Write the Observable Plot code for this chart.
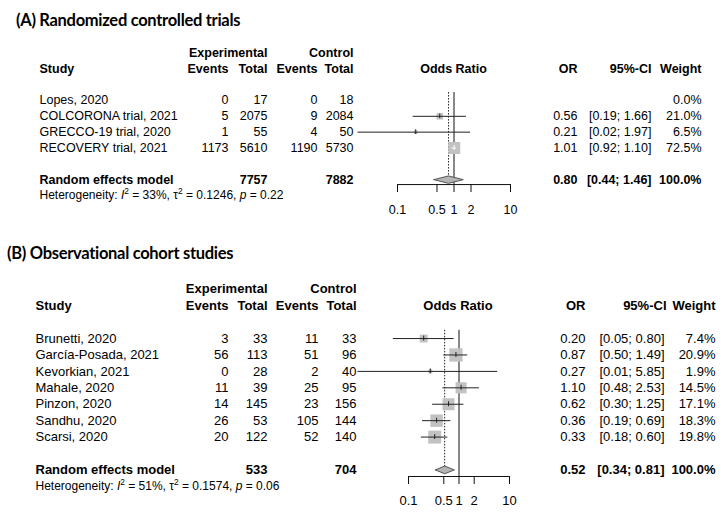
<!DOCTYPE html>
<html><head><meta charset="utf-8">
<script src="https://cdn.jsdelivr.net/npm/d3@7"></script>
<script src="https://cdn.jsdelivr.net/npm/@observablehq/plot@0.6"></script>
<style>
body{margin:0;background:#fff;}
#page{position:relative;width:726px;height:515px;overflow:hidden;font-family:"Liberation Sans",Arial,sans-serif;}
.title{position:absolute;font-family:Lato,"Open Sans",sans-serif;font-weight:bold;font-size:16.5px;letter-spacing:-0.3px;line-height:24px;white-space:nowrap;color:#000;}
.panel{position:absolute;left:0;}
.panel svg{display:block;}
</style></head><body>
<div id="page">
<div class="title" id="titleA" style="left:16px;top:8px"></div>
<div class="panel" id="panelA" style="top:32px"></div>
<div class="title" id="titleB" style="left:7px;top:241px"></div>
<div class="panel" id="panelB" style="top:265px"></div>
</div>
<script>
// ---------- data ----------
const rctTitle = "(A) Randomized controlled trials";
const rctStudies = ["Lopes, 2020", "COLCORONA trial, 2021", "GRECCO-19 trial, 2020", "RECOVERY trial, 2021"];
const rctExpEvents = [0, 5, 1, 1173];
const rctExpTotal = [17, 2075, 55, 5610];
const rctCtrlEvents = [0, 9, 4, 1190];
const rctCtrlTotal = [18, 2084, 50, 5730];
const rctOR = [null, 0.56, 0.21, 1.01];
const rctLower = [null, 0.19, 0.02, 0.92];
const rctUpper = [null, 1.66, 1.97, 1.10];
const rctWeight = [0.0, 21.0, 6.5, 72.5];
const rctPooled = [0.80, 0.44, 1.46];        // OR, lower, upper
const rctPooledTotals = [7757, 7882];        // experimental, control
const rctHet = ["33", "0.1246", "0.22"];     // I2 %, tau2, p

const obsTitle = "(B) Observational cohort studies";
const obsStudies = ["Brunetti, 2020", "García-Posada, 2021", "Kevorkian, 2021", "Mahale, 2020", "Pinzon, 2020", "Sandhu, 2020", "Scarsi, 2020"];
const obsExpEvents = [3, 56, 0, 11, 14, 26, 20];
const obsExpTotal = [33, 113, 28, 39, 145, 53, 122];
const obsCtrlEvents = [11, 51, 2, 25, 23, 105, 52];
const obsCtrlTotal = [33, 96, 40, 95, 156, 144, 140];
const obsOR = [0.20, 0.87, 0.27, 1.10, 0.62, 0.36, 0.33];
const obsLower = [0.05, 0.50, 0.01, 0.48, 0.30, 0.19, 0.18];
const obsUpper = [0.80, 1.49, 5.85, 2.53, 1.25, 0.69, 0.60];
const obsWeight = [7.4, 20.9, 1.9, 14.5, 17.1, 18.3, 19.8];
const obsPooled = [0.52, 0.34, 0.81];
const obsPooledTotals = [533, 704];
const obsHet = ["51", "0.1574", "0.06"];

const headerTop = ["Experimental", "Control"];
const headerCols = ["Study", "Events", "Total", "Events", "Total", "Odds Ratio", "OR", "95%-CI", "Weight"];
const pooledLabel = "Random effects model";
const xTicks = [0.1, 0.5, 1, 2, 10];
const xTickLabels = ["0.1", "0.5", "1", "2", "10"];

// ---------- layout ----------
const layoutA = {
  height: 193, ml: 397, mr: 216, y0: 20.5, step: 15.83, axisRow: 8.31, size: 12.5, labelDy: 25, maxSide: 12,
  cols: {study: 39, expEv: 228, expTot: 267, ctrlEv: 317, ctrlTot: 353, forest: 453, or: 577, ci: 651, ciHead: 651, w: 701}
};
const layoutB = {
  height: 250, ml: 408, mr: 217, y0: 23.8, step: 16.42, axisRow: 11.40, size: 13, labelDy: 24, maxSide: 13.3,
  cols: {study: 35, expEv: 228, expTot: 267, ctrlEv: 318, ctrlTot: 356, forest: 457.5, or: 585, ci: 664, ciHead: 666, w: 715}
};

const f2 = d3.format(".2f");
const f1 = d3.format(".1f");

function makePanel(cfg, d) {
  const rows = d.studies.map((s, i) => ({
    row: 3 + i, study: s, expEv: d.expEv[i], expTot: d.expTot[i], ctrlEv: d.ctrlEv[i], ctrlTot: d.ctrlTot[i],
    or: d.or[i], lo: d.lo[i], hi: d.hi[i], w: d.w[i]
  }));
  const est = rows.filter(r => r.or != null);
  const reRow = 3 + rows.length + 1;
  const hetRow = reRow + 1;
  const frameW = 726 - cfg.ml - cfg.mr;
  const pxPerDecade = frameW / 2;
  const maxW = d3.max(d.w);
  const side = w => cfg.maxSide * Math.sqrt(w / maxW);
  est.forEach(r => { r.inside = (Math.log10(r.hi) - Math.log10(r.lo)) * pxPerDecade < side(r.w); });
  const axisPix = cfg.y0 + cfg.step * cfg.axisRow;
  const mb = cfg.height - axisPix;
  const dh = 0.235; // diamond half-height (rows)
  const diamond = [
    {x: d.pooled[1], y: reRow}, {x: d.pooled[0], y: reRow - dh},
    {x: d.pooled[2], y: reRow}, {x: d.pooled[0], y: reRow + dh}, {x: d.pooled[1], y: reRow}
  ];
  const C = cfg.cols;
  const T = (data, o) => Plot.text(data, {
    frameAnchor: "left", dx: o.px - cfg.ml, y: o.y, text: o.text,
    textAnchor: o.anchor || "end", fontWeight: o.bold ? "bold" : "normal",
    fontSize: o.size || cfg.size, fill: "#000"
  });
  const hy = r => () => r;
  const tickData = xTicks.map((v, i) => ({v, label: xTickLabels[i]}));
  const plot = Plot.plot({
    width: 726, height: cfg.height,
    marginLeft: cfg.ml, marginRight: cfg.mr, marginTop: 0, marginBottom: mb,
    style: {fontFamily: '"Liberation Sans", Arial, sans-serif', background: "#fff", overflow: "visible"},
    x: {type: "log", domain: [0.1, 10], label: null},
    y: {domain: [0, hetRow], range: [cfg.y0, cfg.y0 + cfg.step * hetRow], axis: null},
    r: {type: "sqrt", domain: [0, maxW], range: [0, cfg.maxSide / Math.sqrt(Math.PI)]},
    marks: [
      // header
      T([headerTop[0]], {px: C.expTot, y: hy(0), text: t => t, bold: true}),
      T([headerTop[1]], {px: C.ctrlTot, y: hy(0), text: t => t, bold: true}),
      T([headerCols[0]], {px: C.study, y: hy(1), text: t => t, bold: true, anchor: "start"}),
      T([headerCols[1]], {px: C.expEv, y: hy(1), text: t => t, bold: true}),
      T([headerCols[2]], {px: C.expTot, y: hy(1), text: t => t, bold: true}),
      T([headerCols[3]], {px: C.ctrlEv, y: hy(1), text: t => t, bold: true}),
      T([headerCols[4]], {px: C.ctrlTot, y: hy(1), text: t => t, bold: true}),
      T([headerCols[5]], {px: C.forest, y: hy(1), text: t => t, bold: true, anchor: "middle"}),
      T([headerCols[6]], {px: C.or, y: hy(1), text: t => t, bold: true}),
      T([headerCols[7]], {px: C.ciHead, y: hy(1), text: t => t, bold: true}),
      T([headerCols[8]], {px: C.w, y: hy(1), text: t => t, bold: true}),
      // study rows
      T(rows, {px: C.study, y: "row", text: "study", anchor: "start"}),
      T(rows, {px: C.expEv, y: "row", text: r => String(r.expEv)}),
      T(rows, {px: C.expTot, y: "row", text: r => String(r.expTot)}),
      T(rows, {px: C.ctrlEv, y: "row", text: r => String(r.ctrlEv)}),
      T(rows, {px: C.ctrlTot, y: "row", text: r => String(r.ctrlTot)}),
      T(est, {px: C.or, y: "row", text: r => f2(r.or)}),
      T(est, {px: C.ci, y: "row", text: r => `[${f2(r.lo)}; ${f2(r.hi)}]`}),
      T(rows, {px: C.w, y: "row", text: r => f1(r.w) + "%"}),
      // pooled row
      T([pooledLabel], {px: C.study, y: hy(reRow), text: t => t, bold: true, anchor: "start"}),
      T([d.pooledTot[0]], {px: C.expTot, y: hy(reRow), text: t => String(t), bold: true}),
      T([d.pooledTot[1]], {px: C.ctrlTot, y: hy(reRow), text: t => String(t), bold: true}),
      T([d.pooled], {px: C.or, y: hy(reRow), text: p => f2(p[0]), bold: true}),
      T([d.pooled], {px: C.ci, y: hy(reRow), text: p => `[${f2(p[1])}; ${f2(p[2])}]`, bold: true}),
      T(["100.0%"], {px: C.w, y: hy(reRow), text: t => t, bold: true}),
      // heterogeneity
      T([d.het], {px: C.study, y: hy(hetRow), text: h => `Heterogeneity: I² = ${h[0]}%, τ² = ${h[1]}, p = ${h[2]}`, anchor: "start", size: 12}),
      // reference lines
      Plot.ruleX([1], {y1: 2.5, y2: cfg.axisRow, stroke: "#111", strokeWidth: 1}),
      Plot.ruleX([d.pooled[0]], {y1: 2.5, y2: reRow, stroke: "#222", strokeWidth: 1, strokeDasharray: "1.5,1.5"}),
      // squares
      Plot.dot(est, {x: "or", y: "row", r: "w", symbol: "square", fill: "#c2c2c2"}),
      // CI lines and estimate ticks
      Plot.ruleY(est, {y: "row", x1: "lo", x2: "hi", stroke: r => r.inside ? "#fff" : "#222", strokeWidth: 1}),
      Plot.ruleX(est, {x: "or", y1: r => r.row - 0.15, y2: r => r.row + 0.15, stroke: r => r.inside ? "#fff" : "#222", strokeWidth: 1}),
      // diamond
      Plot.line(diamond, {x: "x", y: "y", fill: "#b4b4b4", stroke: "#555", strokeWidth: 1}),
      // axis
      Plot.ruleY([cfg.axisRow], {x1: xTicks[0], x2: xTicks[xTicks.length - 1], stroke: "#111"}),
      Plot.axisX(xTicks, {anchor: "bottom", tickSize: 8, label: null, tickFormat: () => "", stroke: "#111"}),
      Plot.text(tickData, {x: "v", y: () => cfg.axisRow, dy: cfg.labelDy, text: "label", fontSize: cfg.size, fill: "#000"})
    ]
  });
  // rich text for heterogeneity line
  plot.querySelectorAll("text").forEach(t => {
    if (t.textContent.startsWith("Heterogeneity")) {
      const h = d.het;
      const ns = "http://www.w3.org/2000/svg";
      t.textContent = "";
      const add = (s, o = {}) => {
        const ts = document.createElementNS(ns, "tspan");
        ts.textContent = s;
        if (o.italic) ts.setAttribute("font-style", "italic");
        if (o.sup) { ts.setAttribute("baseline-shift", "super"); ts.setAttribute("font-size", "70%"); }
        t.appendChild(ts);
      };
      add("Heterogeneity: "); add("I", {italic: true}); add("2", {sup: true});
      add(` = ${h[0]}%, τ`); add("2", {sup: true}); add(` = ${h[1]}, `);
      add("p", {italic: true}); add(` = ${h[2]}`);
    }
  });
  return plot;
}

document.getElementById("titleA").textContent = rctTitle;
document.getElementById("titleB").textContent = obsTitle;
document.getElementById("panelA").appendChild(makePanel(layoutA, {
  studies: rctStudies, expEv: rctExpEvents, expTot: rctExpTotal, ctrlEv: rctCtrlEvents, ctrlTot: rctCtrlTotal,
  or: rctOR, lo: rctLower, hi: rctUpper, w: rctWeight, pooled: rctPooled, pooledTot: rctPooledTotals, het: rctHet
}));
document.getElementById("panelB").appendChild(makePanel(layoutB, {
  studies: obsStudies, expEv: obsExpEvents, expTot: obsExpTotal, ctrlEv: obsCtrlEvents, ctrlTot: obsCtrlTotal,
  or: obsOR, lo: obsLower, hi: obsUpper, w: obsWeight, pooled: obsPooled, pooledTot: obsPooledTotals, het: obsHet
}));
</script>
</body></html>
